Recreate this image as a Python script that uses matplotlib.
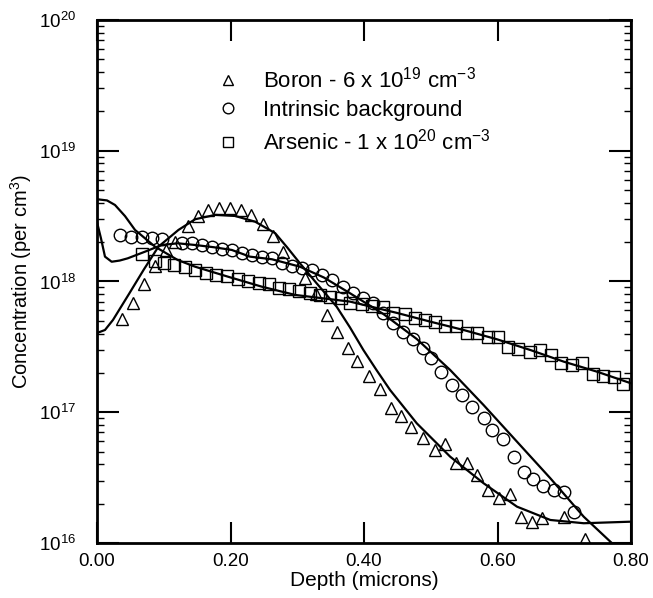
import numpy as np
import matplotlib
matplotlib.use("Agg")
import matplotlib.pyplot as plt
from matplotlib.lines import Line2D
from matplotlib.ticker import LogLocator, FixedLocator, FormatStrFormatter

plt.rcParams['font.family'] = ['Liberation Sans', 'DejaVu Sans']
plt.rcParams['mathtext.fontset'] = 'custom'
plt.rcParams['mathtext.rm'] = 'Liberation Sans'
plt.rcParams['mathtext.default'] = 'regular'

# depth in microns, concentrations as log10(cm^-3)
boron_pts_x = [0.037, 0.054, 0.071, 0.087, 0.103, 0.117, 0.136, 0.151, 0.167, 0.183,
               0.199, 0.215, 0.231, 0.248, 0.263, 0.279, 0.312, 0.328, 0.344, 0.360,
               0.376, 0.390, 0.408, 0.424, 0.440, 0.456, 0.471, 0.489, 0.506, 0.521,
               0.538, 0.554, 0.569, 0.586, 0.602, 0.619, 0.635, 0.651, 0.666, 0.699,
               0.731]
boron_pts_log = [17.711, 17.833, 17.981, 18.119, 18.241, 18.304, 18.424, 18.501, 18.547, 18.564,
                 18.564, 18.547, 18.505, 18.440, 18.344, 18.226, 18.027, 17.904, 17.744, 17.616,
                 17.491, 17.388, 17.277, 17.176, 17.030, 16.971, 16.890, 16.801, 16.711, 16.757,
                 16.610, 16.610, 16.520, 16.405, 16.342, 16.375, 16.201, 16.163, 16.189, 16.201,
                 16.030]

intr_pts_x = [0.035, 0.051, 0.067, 0.082, 0.097, 0.127, 0.142, 0.157, 0.172, 0.187,
              0.202, 0.217, 0.232, 0.247, 0.262, 0.277, 0.292, 0.307, 0.322, 0.337,
              0.352, 0.368, 0.383, 0.399, 0.414, 0.429, 0.444, 0.459, 0.474, 0.489,
              0.501, 0.516, 0.531, 0.546, 0.561, 0.579, 0.591, 0.608, 0.624, 0.639,
              0.653, 0.668, 0.684, 0.700, 0.715]
intr_pts_log = [18.356, 18.343, 18.338, 18.330, 18.325, 18.297, 18.292, 18.279, 18.266, 18.249,
                18.241, 18.220, 18.199, 18.187, 18.177, 18.145, 18.119, 18.101, 18.088, 18.050,
                18.011, 17.960, 17.914, 17.872, 17.833, 17.757, 17.680, 17.616, 17.558, 17.495,
                17.413, 17.310, 17.208, 17.132, 17.042, 16.954, 16.864, 16.795, 16.660, 16.545,
                16.487, 16.436, 16.405, 16.392, 16.239]

ars_pts_x = [0.067, 0.087, 0.101, 0.116, 0.132, 0.147, 0.164, 0.179, 0.194, 0.211,
             0.226, 0.242, 0.257, 0.272, 0.287, 0.303, 0.319, 0.334, 0.349, 0.365,
             0.379, 0.397, 0.412, 0.429, 0.444, 0.461, 0.476, 0.491, 0.506, 0.521,
             0.538, 0.554, 0.569, 0.586, 0.601, 0.616, 0.631, 0.648, 0.664, 0.680,
             0.695, 0.711, 0.726, 0.743, 0.758, 0.774, 0.788]
ars_pts_log = [18.213, 18.159, 18.144, 18.126, 18.113, 18.088, 18.067, 18.050, 18.042, 18.017,
               18.006, 17.986, 17.981, 17.952, 17.943, 17.930, 17.914, 17.897, 17.884, 17.872,
               17.838, 17.828, 17.815, 17.807, 17.761, 17.751, 17.719, 17.706, 17.693, 17.661,
               17.660, 17.608, 17.608, 17.573, 17.573, 17.501, 17.481, 17.463, 17.476, 17.438,
               17.374, 17.361, 17.374, 17.293, 17.277, 17.272, 17.216]

# simulated profiles (solid lines)
boron_fit_x = [0.0, 0.012, 0.024, 0.048, 0.070, 0.092, 0.122, 0.147, 0.177, 0.207,
               0.237, 0.267, 0.285, 0.304, 0.329, 0.359, 0.379, 0.399, 0.419, 0.439,
               0.479, 0.529, 0.579, 0.629, 0.679, 0.729, 0.80]
boron_fit_log = [17.606, 17.629, 17.706, 17.905, 18.090, 18.266, 18.394, 18.476, 18.509, 18.501,
                 18.457, 18.369, 18.260, 18.139, 17.986, 17.807, 17.648, 17.476, 17.320, 17.170,
                 16.915, 16.660, 16.457, 16.278, 16.176, 16.151, 16.163]

intr_fit_x = [0.0, 0.006, 0.012, 0.022, 0.034, 0.046, 0.072, 0.097, 0.121, 0.147,
              0.175, 0.202, 0.229, 0.262, 0.304, 0.340, 0.379, 0.429, 0.479, 0.529,
              0.579, 0.629, 0.679, 0.729, 0.771, 0.785]
intr_fit_log = [18.455, 18.330, 18.190, 18.151, 18.160, 18.177, 18.228, 18.279, 18.292, 18.279,
                18.262, 18.241, 18.190, 18.170, 18.113, 18.030, 17.910, 17.751, 17.560, 17.323,
                17.055, 16.775, 16.495, 16.201, 16.000, 15.910]

ars_fit_x = [0.0, 0.015, 0.027, 0.042, 0.057, 0.087, 0.121, 0.147, 0.196, 0.247,
             0.297, 0.379, 0.449, 0.499, 0.549, 0.599, 0.649, 0.699, 0.749, 0.80]
ars_fit_log = [18.629, 18.620, 18.585, 18.500, 18.394, 18.266, 18.164, 18.113, 18.037, 17.960,
               17.897, 17.846, 17.760, 17.693, 17.629, 17.558, 17.476, 17.387, 17.310, 17.221]

labels = ['Boron - 6 x 10$^{19}$ cm$^{-3}$',
          'Intrinsic background',
          'Arsenic - 1 x 10$^{20}$ cm$^{-3}$']
markers = ['^', 'o', 's']
msizes = [9, 9, 8.5]

fig = plt.figure(figsize=(6.53, 5.98), dpi=100)
ax = fig.add_axes([0.1485, 0.092, 0.818, 0.8746])

pts = [(boron_pts_x, boron_pts_log), (intr_pts_x, intr_pts_log), (ars_pts_x, ars_pts_log)]
fits = [(boron_fit_x, boron_fit_log), (intr_fit_x, intr_fit_log), (ars_fit_x, ars_fit_log)]

for (fx, fl) in fits:
    ax.plot(fx, 10 ** np.array(fl), color='black', lw=1.6, zorder=3)

for (px, pl), m, ms in zip(pts, markers, msizes):
    ax.plot(px, 10 ** np.array(pl), linestyle='none', marker=m, ms=ms,
            mfc='none', mec='black', mew=1.0, zorder=4)

ax.set_yscale('log')
ax.set_xlim(0, 0.8)
ax.set_ylim(1e16, 1e20)

ax.xaxis.set_major_locator(FixedLocator([0.0, 0.2, 0.4, 0.6, 0.8]))
ax.xaxis.set_major_formatter(FormatStrFormatter('%.2f'))
ax.yaxis.set_major_locator(LogLocator(base=10, numticks=10))
ax.yaxis.set_minor_locator(LogLocator(base=10, subs=np.arange(2, 10), numticks=20))

ax.tick_params(axis='x', which='major', direction='in', length=15, width=1.5,
               top=True, labelsize=13.5, pad=7)
ax.tick_params(axis='y', which='major', direction='in', length=16, width=1.5,
               right=True, labelsize=13.5, pad=15)
ax.tick_params(axis='y', which='minor', direction='in', length=5, width=1.0, right=True)

for sp in ax.spines.values():
    sp.set_linewidth(2.0)

ax.set_xlabel('Depth (microns)', fontsize=15, labelpad=1)
ax.set_ylabel('Concentration (per cm$^3$)', fontsize=14.5, labelpad=4)

handles = [Line2D([], [], linestyle='none', marker=m, ms=ms * 0.85, mfc='none',
                  mec='black', mew=1.0) for m, ms in zip(markers, msizes)]
ax.legend(handles, labels, loc='upper left', bbox_to_anchor=(0.2247, 0.911),
          frameon=False, fontsize=16, handlelength=1.0, handletextpad=1.09,
          labelspacing=0.35, borderpad=0, borderaxespad=0)

fig.savefig('out.png', dpi=100)
